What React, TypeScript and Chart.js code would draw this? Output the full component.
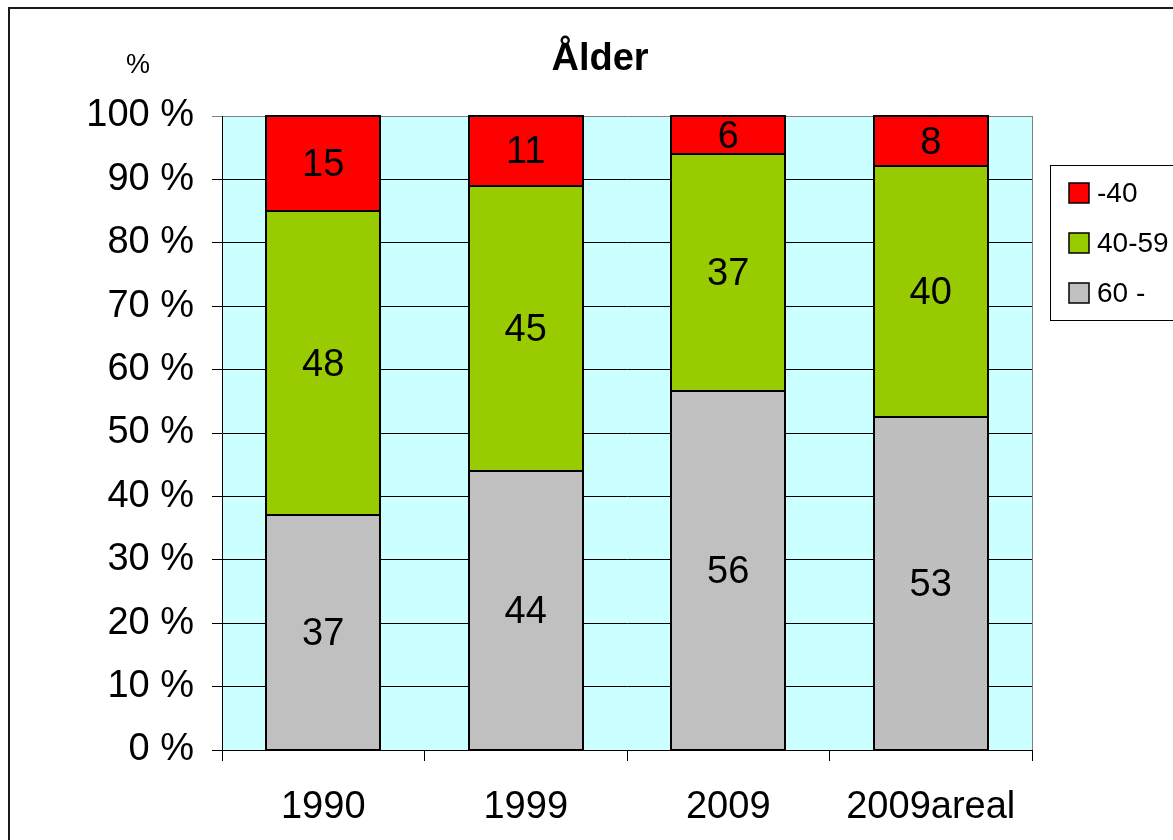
import React, { useEffect, useRef } from "react";
import { Chart, registerables } from "chart.js";

Chart.register(...registerables);

const categories = ["1990", "1999", "2009", "2009areal"];
const age60plus = [37, 44, 56, 53];
const age40to59 = [48, 45, 37, 40];
const ageUnder40 = [15, 11, 6, 8];
const seriesNames = ["60 -", "40-59", "-40"];
const seriesColors = ["#C0C0C0", "#99CC00", "#FF0000"];
const yTicks = [0, 10, 20, 30, 40, 50, 60, 70, 80, 90, 100];

const FONT = '"Liberation Sans", Arial, sans-serif';

function makePattern(base: string, dot: string): CanvasPattern | string {
  const c = document.createElement("canvas");
  c.width = 4;
  c.height = 4;
  const g = c.getContext("2d");
  if (!g) return base;
  g.fillStyle = base;
  g.fillRect(0, 0, 4, 4);
  g.fillStyle = dot;
  g.fillRect(0, 0, 1, 1);
  g.fillRect(2, 2, 1, 1);
  const p = g.createPattern(c, "repeat");
  return p || base;
}

export default function App() {
  const ref = useRef<HTMLCanvasElement | null>(null);

  useEffect(() => {
    const canvas = ref.current;
    if (!canvas) return;
    const raw = [age60plus, age40to59, ageUnder40];
    const totals = categories.map((_, i) => raw.reduce((s, arr) => s + arr[i], 0));
    const dots = ["#B4B4B4", "#91C200", "#EE0000"];

    const datasets = raw.map((arr, si) => ({
      label: seriesNames[si],
      data: arr.map((v, i) => (v / totals[i]) * 100),
      rawValues: arr,
      backgroundColor: categories.map((_, i) =>
        i === 3 ? makePattern(seriesColors[si], dots[si]) : seriesColors[si]
      ),
      borderWidth: 0,
      barPercentage: 0.563,
      categoryPercentage: 1.0,
    }));

    const decorPlugin = {
      id: "decor",
      beforeDraw(chart: any) {
        const { ctx, chartArea } = chart;
        ctx.save();
        ctx.fillStyle = "#FFFFFF";
        ctx.fillRect(0, 0, chart.width, chart.height);
        ctx.fillStyle = "#CCFFFF";
        ctx.fillRect(chartArea.left, chartArea.top, chartArea.right - chartArea.left, chartArea.bottom - chartArea.top);
        ctx.restore();
      },
      afterDatasetsDraw(chart: any) {
        const { ctx } = chart;
        ctx.save();
        // bar outlines
        ctx.strokeStyle = "#000";
        ctx.lineWidth = 2;
        chart.data.datasets.forEach((_ds: any, di: number) => {
          const meta = chart.getDatasetMeta(di);
          meta.data.forEach((bar: any) => {
            const p = bar.getProps(["x", "y", "base", "width"], true);
            const l = Math.round(p.x - p.width / 2);
            const r = Math.round(p.x + p.width / 2);
            const t = Math.round(Math.min(p.y, p.base));
            const b = Math.round(Math.max(p.y, p.base));
            ctx.strokeRect(l, t, r - l, b - t);
          });
        });
        // value labels
        ctx.fillStyle = "#000";
        ctx.font = `38px ${FONT}`;
        ctx.textAlign = "center";
        ctx.textBaseline = "middle";
        chart.data.datasets.forEach((ds: any, di: number) => {
          const meta = chart.getDatasetMeta(di);
          meta.data.forEach((bar: any, i: number) => {
            const p = bar.getProps(["x", "y", "base"], true);
            const cy = (p.y + p.base) / 2;
            ctx.fillText(String(ds.rawValues[i]), p.x, cy + 2);
          });
        });
        ctx.restore();
      },
      afterDraw(chart: any) {
        const { ctx, chartArea } = chart;
        ctx.save();
        ctx.strokeStyle = "#808080";
        ctx.lineWidth = 1;
        ctx.beginPath();
        ctx.moveTo(chartArea.right + 0.5, chartArea.top);
        ctx.lineTo(chartArea.right + 0.5, chartArea.bottom);
        ctx.stroke();
        // outer frame
        ctx.fillStyle = "#1a1a1a";
        ctx.fillRect(8, 7, 2, chart.height);
        ctx.fillRect(8, 7, chart.width, 2);
        // title and unit
        ctx.fillStyle = "#000";
        ctx.textAlign = "center";
        ctx.textBaseline = "middle";
        ctx.font = `bold 38px ${FONT}`;
        ctx.fillText("Ålder", 600, 60);
        ctx.font = `27px ${FONT}`;
        ctx.fillText("%", 138, 66);
        // legend
        const lx = 1050, ly = 165;
        ctx.fillStyle = "#FFFFFF";
        ctx.fillRect(lx, ly, 200, 155);
        ctx.strokeStyle = "#000";
        ctx.lineWidth = 1;
        ctx.strokeRect(lx + 0.5, ly + 0.5, 200, 155);
        const order = [2, 1, 0];
        const rowsY = [193, 243, 293];
        ctx.font = `28px ${FONT}`;
        ctx.textAlign = "left";
        order.forEach((si, r) => {
          const y = rowsY[r];
          ctx.fillStyle = seriesColors[si];
          ctx.fillRect(1069, y - 10, 20, 20);
          ctx.strokeStyle = "#000";
          ctx.lineWidth = 1.5;
          ctx.strokeRect(1069, y - 10, 20, 20);
          ctx.fillStyle = "#000";
          ctx.fillText(seriesNames[si], 1097, y + 1);
        });
        ctx.restore();
      },
    };

    const chart = new Chart(canvas, {
      type: "bar",
      data: { labels: categories, datasets: datasets as any },
      options: {
        responsive: false,
        animation: false,
        devicePixelRatio: 1,
        layout: { padding: { left: 0, top: 116, right: 141, bottom: 0 } },
        plugins: {
          legend: { display: false },
          title: { display: false },
          tooltip: { enabled: false },
        },
        scales: {
          x: {
            stacked: true,
            offset: true,
            afterFit: (s: any) => {
              s.height = 90;
            },
            grid: {
              offset: true,
              drawOnChartArea: false,
              drawTicks: true,
              tickLength: 11,
              color: "#000",
              lineWidth: 1,
            },
            border: { display: true, color: "#000", width: 1 },
            ticks: {
              color: "#000",
              font: { family: FONT, size: 38 },
              padding: 24,
              maxRotation: 0,
              autoSkip: false,
            },
          },
          y: {
            stacked: true,
            min: 0,
            max: 100,
            afterFit: (s: any) => {
              s.width = 222;
            },
            afterBuildTicks: (s: any) => {
              s.ticks = yTicks.map((v) => ({ value: v }));
            },
            grid: {
              color: (c: any) => (c.tick && c.tick.value === 100 ? "#808080" : "#000"),
              lineWidth: 1,
              tickLength: 10,
              drawTicks: true,
            },
            border: { display: true, color: "#000", width: 1 },
            ticks: {
              color: "#000",
              font: { family: FONT, size: 38 },
              padding: 18,
              callback: (v: any) => `${v} %`,
            },
          },
        },
      },
      plugins: [decorPlugin],
    });

    return () => chart.destroy();
  }, []);

  return (
    <div style={{ position: "fixed", left: 0, top: 0, width: 1173, height: 840, background: "#fff" }}>
      <canvas ref={ref} width={1173} height={840} style={{ display: "block" }} />
    </div>
  );
}
